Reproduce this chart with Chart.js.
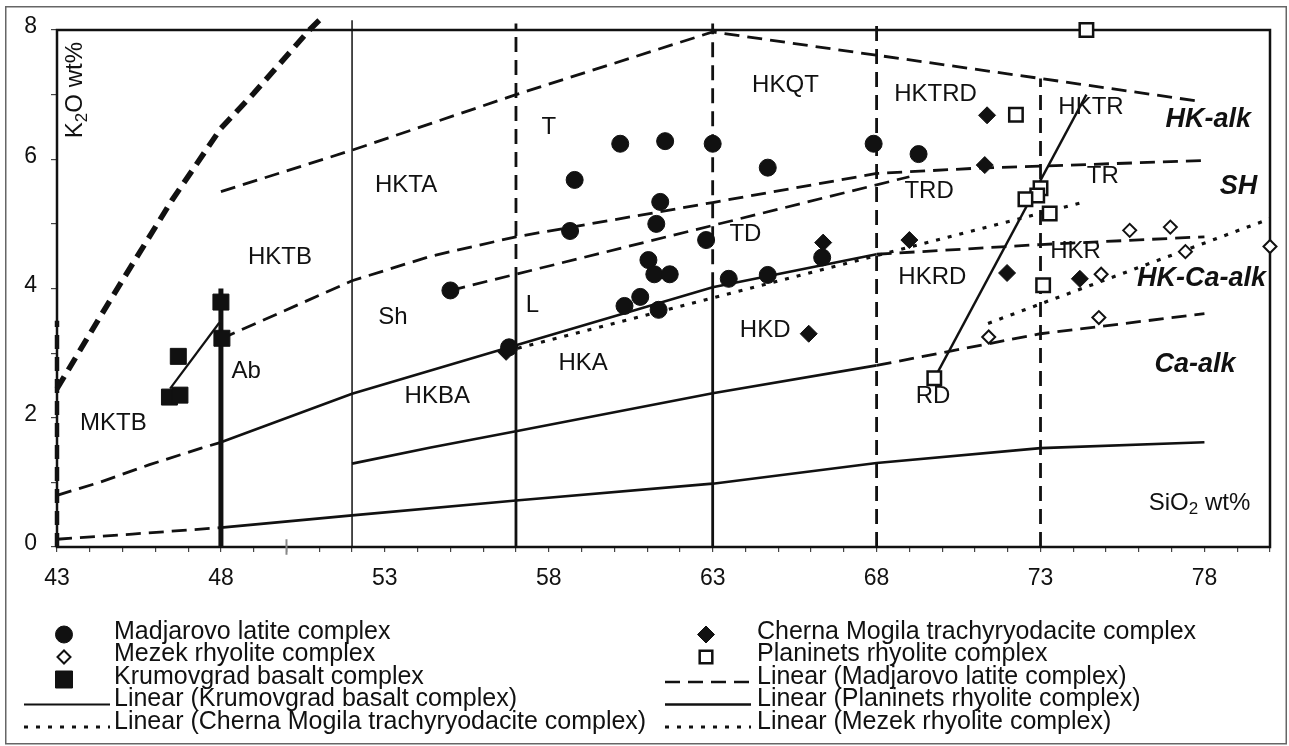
<!DOCTYPE html>
<html lang="en">
<head>
<meta charset="UTF-8">
<title>K2O vs SiO2 diagram</title>
<script src="https://cdn.jsdelivr.net/npm/chart.js"></script>
<style>
  body { margin: 0; background: #fff; }
  canvas { display: block; }
</style>
</head>
<body>
<canvas id="chart" width="1289" height="746"></canvas>
<script>
const FONT = "'Liberation Sans', Arial, Helvetica, sans-serif";
const INK = '#111';

// axes
const xTickLabels = [43, 48, 53, 58, 63, 68, 73, 78];
const yTickLabels = [0, 2, 4, 6, 8];

// samples [SiO2, K2O]
const madjarovo = [
  [60.18, 6.24], [61.55, 6.28], [63.0, 6.24], [58.79, 5.68], [64.68, 5.87],
  [61.4, 5.34], [61.28, 5.0], [58.65, 4.89], [62.8, 4.75], [61.04, 4.44],
  [61.22, 4.22], [61.69, 4.22], [63.49, 4.15], [64.68, 4.21], [66.34, 4.48],
  [55.0, 3.97], [60.31, 3.73], [60.79, 3.87], [61.35, 3.67], [56.79, 3.09],
  [67.91, 6.24], [69.28, 6.08]
];
const chernaMogila = [
  [56.7, 3.02], [66.37, 4.71], [65.93, 3.3], [71.37, 6.68], [71.3, 5.91],
  [69.0, 4.75], [71.98, 4.24], [74.2, 4.15]
];
const planinets = [
  [74.4, 8.0], [72.25, 6.69], [73.0, 5.55], [72.9, 5.44], [72.54, 5.38],
  [73.28, 5.16], [73.08, 4.05], [69.76, 2.61]
];
const mezek = [
  [71.42, 3.25], [74.78, 3.55], [74.85, 4.22], [75.72, 4.9], [76.96, 4.95],
  [77.42, 4.57], [80.0, 4.65]
];
const krumovgrad = [
  [48.0, 3.79], [48.03, 3.23], [46.7, 2.95], [46.43, 2.32], [46.75, 2.35]
];

// trend lines, end points
const trendKrumovgrad = [[46.45, 2.45], [47.95, 3.47]];
const trendMadjarovo = [[55.0, 3.97], [69.0, 5.73]];
const trendPlaninets = [[69.85, 2.69], [74.4, 7.0]];
const trendCherna = [[56.7, 3.03], [74.2, 5.32]];
const trendMezek = [[71.4, 3.46], [80.0, 5.08]];

// field boundaries
const ultraKLine = [[43, 2.45], [44.3, 3.55], [45, 4.13], [46.5, 5.36], [48, 6.48], [49, 7.02], [50.7, 8.0], [51, 8.15]];
const ultraKEdge = [[43, 0], [43, 3.5]];
const hkAlkTop = [[48, 5.5], [52, 6.14], [57, 7.0], [63, 7.97], [68, 7.61], [73, 7.25], [77.8, 6.9]];
const shTop = [[48, 3.22], [52, 4.12], [54.4, 4.5], [57, 4.8], [63, 5.33], [68, 5.78], [71, 5.86], [78, 5.98]];
const hkcaTopLeft = [[43, 0.8], [44.3, 1.0], [45.8, 1.27], [47.4, 1.53], [48, 1.62]];
const hkcaTop = [[48, 1.62], [52, 2.37], [57, 3.12], [63, 4.02], [68, 4.53]];
const hkcaTopRight = [[68, 4.53], [73, 4.68], [78, 4.8]];
const caTop = [[52, 1.29], [54.4, 1.54], [57, 1.79], [63, 2.38], [68, 2.81]];
const caTopRight = [[68, 2.81], [73, 3.3], [78, 3.61]];
const lowKLeft = [[43, 0.12], [45.3, 0.2], [48, 0.3]];
const lowK = [[48, 0.3], [52, 0.49], [57, 0.72], [63, 0.98], [68, 1.3], [73, 1.53], [78, 1.62]];
const v48 = [[48, 0], [48, 4.0]];
const v52 = [[52, 0], [52, 8.15]];
const v57low = [[57, 0], [57, 4.1]];
const v57high = [[57, 4.1], [57, 8.1]];
const v63low = [[63, 0], [63, 4.02]];
const v63high = [[63, 4.02], [63, 8.1]];
const v68 = [[68, 0], [68, 8.15]];
const v73 = [[73, 0], [73, 7.25]];
const strayMark = [[50, -0.12], [50, 0.12]];

// field names [text, SiO2, K2O]
const fieldLabels = [
  ['MKTB', 44.72, 1.92], ['HKTB', 49.8, 4.48], ['HKTA', 53.65, 5.6], ['T', 58.0, 6.5],
  ['HKQT', 65.22, 7.14], ['HKTRD', 69.8, 7.0], ['HKTR', 74.54, 6.81],
  ['Sh', 53.25, 3.56], ['Ab', 48.77, 2.72], ['L', 57.5, 3.74], ['TD', 64.0, 4.84],
  ['TRD', 69.6, 5.51], ['TR', 74.9, 5.74], ['HKRD', 69.7, 4.17], ['HKR', 74.07, 4.57],
  ['HKD', 64.6, 3.35], ['HKA', 59.05, 2.84], ['HKBA', 54.6, 2.33], ['RD', 69.72, 2.33]
];
const seriesLabels = [
  ['HK-alk', 78.12, 6.62], ['SH', 79.04, 5.58], ['HK-Ca-alk', 77.91, 4.15], ['Ca-alk', 77.71, 2.83]
];

const legendLeft = ['Madjarovo latite complex', 'Mezek rhyolite complex', 'Krumovgrad basalt complex',
  'Linear (Krumovgrad basalt complex)', 'Linear (Cherna Mogila trachyryodacite complex)'];
const legendRight = ['Cherna Mogila trachyryodacite complex', 'Planinets rhyolite complex',
  'Linear (Madjarovo latite complex)', 'Linear (Planinets rhyolite complex)', 'Linear (Mezek rhyolite complex)'];

const pts = a => a.map(([x, y]) => ({ x, y }));

function pointSet(label, data, style, radius, fill, bw) {
  return {
    label, data: pts(data), showLine: false, clip: false,
    pointStyle: style, pointRadius: radius, pointHoverRadius: radius,
    pointBackgroundColor: fill, pointBorderColor: INK, pointBorderWidth: bw
  };
}
function lineSet(label, data, width, dash, color) {
  return {
    label, data: pts(data), showLine: true, clip: false, pointRadius: 0, tension: 0,
    borderColor: color || INK, borderWidth: width, borderDash: dash || [], borderCapStyle: 'butt', fill: false
  };
}

const DASH = [15, 8];
const DOT = [4, 8];
const BOLD = [14, 8];

const datasets = [
  pointSet('Madjarovo latite complex', madjarovo, 'circle', 8.5, INK, 1),
  pointSet('Cherna Mogila trachyryodacite complex', chernaMogila, 'rectRot', 8.5, INK, 1),
  pointSet('Planinets rhyolite complex', planinets, 'rect', 9.5, '#fff', 2.5),
  pointSet('Mezek rhyolite complex', mezek, 'rectRot', 6.5, '#fff', 2),
  pointSet('Krumovgrad basalt complex', krumovgrad, 'rect', 11.3, INK, 1),
  lineSet('Linear (Krumovgrad basalt complex)', trendKrumovgrad, 2.2),
  lineSet('Linear (Madjarovo latite complex)', trendMadjarovo, 2.7, DASH),
  lineSet('Linear (Planinets rhyolite complex)', trendPlaninets, 2.4),
  lineSet('Linear (Cherna Mogila trachyryodacite complex)', trendCherna, 3.2, DOT),
  lineSet('Linear (Mezek rhyolite complex)', trendMezek, 3.2, DOT),
  lineSet('', ultraKLine, 5.5, BOLD),
  lineSet('', ultraKEdge, 4.5, BOLD),
  lineSet('', hkAlkTop, 2.8, DASH),
  lineSet('', shTop, 2.8, DASH),
  lineSet('', hkcaTopLeft, 2.8, DASH),
  lineSet('', hkcaTop, 2.6),
  lineSet('', hkcaTopRight, 2.8, DASH),
  lineSet('', caTop, 2.6),
  lineSet('', caTopRight, 2.8, DASH),
  lineSet('', lowKLeft, 2.8, DASH),
  lineSet('', lowK, 2.6),
  lineSet('', v48, 5),
  lineSet('', v52, 1.5),
  lineSet('', v57low, 2.8),
  lineSet('', v57high, 2.8, DASH),
  lineSet('', v63low, 2.8),
  lineSet('', v63high, 2.8, DASH),
  lineSet('', v68, 2.8, DASH),
  lineSet('', v73, 2.8, DASH),
  lineSet('', strayMark, 2, [], '#888')
];

function drawRich(ctx, parts, x, y, size, weight) {
  const sub = Math.round(size * 0.72);
  let total = 0;
  const widths = parts.map(([t, s]) => {
    ctx.font = `${weight || ''} ${s ? sub : size}px ${FONT}`;
    const w = ctx.measureText(t).width;
    total += w;
    return w;
  });
  let cx = x - total / 2;
  ctx.textAlign = 'left';
  parts.forEach(([t, s], i) => {
    ctx.font = `${weight || ''} ${s ? sub : size}px ${FONT}`;
    ctx.fillText(t, cx, s ? y + size * 0.28 : y);
    cx += widths[i];
  });
}

const paperPlugin = {
  id: 'paper',
  beforeDraw(chart) {
    const ctx = chart.ctx;
    ctx.save();
    ctx.fillStyle = '#fff';
    ctx.fillRect(0, 0, chart.width, chart.height);
    ctx.strokeStyle = '#666';
    ctx.lineWidth = 1.5;
    ctx.strokeRect(5.75, 6.75, 1280.5, 737);
    ctx.restore();
  }
};

const framePlugin = {
  id: 'frame',
  beforeDatasetsDraw(chart) {
    const { ctx, chartArea: a, scales } = chart;
    ctx.save();
    ctx.fillStyle = INK;
    ctx.textBaseline = 'middle';
    ctx.textAlign = 'center';
    ctx.font = `24px ${FONT}`;
    fieldLabels.forEach(([t, x, y]) => ctx.fillText(t, scales.x.getPixelForValue(x), scales.y.getPixelForValue(y)));
    ctx.font = `italic bold 27px ${FONT}`;
    seriesLabels.forEach(([t, x, y]) => ctx.fillText(t, scales.x.getPixelForValue(x), scales.y.getPixelForValue(y)));
    // axis titles
    drawRich(ctx, [['SiO', false], ['2', true], [' wt%', false]], scales.x.getPixelForValue(77.85), scales.y.getPixelForValue(0.68), 24);
    ctx.save();
    ctx.translate(scales.x.getPixelForValue(43.57), scales.y.getPixelForValue(7.07));
    ctx.rotate(-Math.PI / 2);
    drawRich(ctx, [['K', false], ['2', true], ['O wt%', false]], 0, 0, 24);
    ctx.restore();
    ctx.strokeStyle = INK;
    ctx.lineWidth = 2.5;
    ctx.strokeRect(a.left, a.top, a.right - a.left, a.bottom - a.top);
    ctx.restore();
  }
};

function legendMarker(ctx, ds, x, y) {
  const open = ds.pointBackgroundColor === '#fff';
  ctx.fillStyle = ds.pointBackgroundColor;
  ctx.strokeStyle = INK;
  ctx.lineWidth = ds.pointBorderWidth;
  ctx.beginPath();
  if (ds.pointStyle === 'circle') {
    ctx.arc(x, y, 8.5, 0, Math.PI * 2);
  } else if (ds.pointStyle === 'rectRot') {
    const r = open ? 6.5 : 8.5;
    ctx.moveTo(x - r, y); ctx.lineTo(x, y - r); ctx.lineTo(x + r, y); ctx.lineTo(x, y + r); ctx.closePath();
  } else {
    const h = open ? 6.3 : 8.5;
    ctx.rect(x - h, y - h, 2 * h, 2 * h);
  }
  ctx.fill();
  ctx.stroke();
}

const legendPlugin = {
  id: 'twoColumnLegend',
  afterDraw(chart) {
    const ctx = chart.ctx;
    const cols = [
      { names: legendLeft, x0: 24, x1: 110, mx: 64, tx: 114 },
      { names: legendRight, x0: 665, x1: 751, mx: 706, tx: 757 }
    ];
    ctx.save();
    ctx.font = `25px ${FONT}`;
    ctx.textBaseline = 'middle';
    ctx.textAlign = 'left';
    cols.forEach(col => col.names.forEach((name, i) => {
      const ds = chart.data.datasets.find(d => d.label === name);
      const y = 632 + i * 22.5;
      if (ds.showLine) {
        ctx.strokeStyle = ds.borderColor;
        ctx.lineWidth = ds.borderWidth;
        ctx.setLineDash(ds.borderDash.length ? ds.borderDash : []);
        ctx.beginPath();
        ctx.moveTo(col.x0, y + 5);
        ctx.lineTo(col.x1, y + 5);
        ctx.stroke();
        ctx.setLineDash([]);
      } else {
        legendMarker(ctx, ds, col.mx, y + 2.5);
      }
      ctx.fillStyle = INK;
      ctx.fillText(name, col.tx, y);
    }));
    ctx.restore();
  }
};

const axisFont = { family: FONT, size: 23 };

new Chart(document.getElementById('chart'), {
  type: 'scatter',
  data: { datasets },
  options: {
    responsive: false,
    animation: false,
    events: [],
    layout: { padding: { left: 0, top: 30, right: 19, bottom: 159 } },
    plugins: { legend: { display: false }, tooltip: { enabled: false } },
    scales: {
      x: {
        type: 'linear', min: 43, max: 80,
        ticks: {
          stepSize: 1, autoSkip: false, maxRotation: 0, minRotation: 0, padding: 13,
          color: INK, font: axisFont,
          callback: v => xTickLabels.includes(v) ? String(v) : ''
        },
        grid: { drawOnChartArea: false, drawTicks: true, tickLength: 5, color: '#444', lineWidth: 1.2 },
        border: { display: false },
        afterFit: s => { s.height = 40; }
      },
      y: {
        type: 'linear', min: 0, max: 8,
        ticks: {
          stepSize: 1, padding: 14, labelOffset: -3,
          color: INK, font: axisFont,
          callback: v => yTickLabels.includes(v) ? String(v) : ''
        },
        grid: { drawOnChartArea: false, drawTicks: true, tickLength: 6, color: '#444', lineWidth: 1.2 },
        border: { display: false },
        afterFit: s => { s.width = 57; }
      }
    }
  },
  plugins: [paperPlugin, framePlugin, legendPlugin]
});
</script>
</body>
</html>
